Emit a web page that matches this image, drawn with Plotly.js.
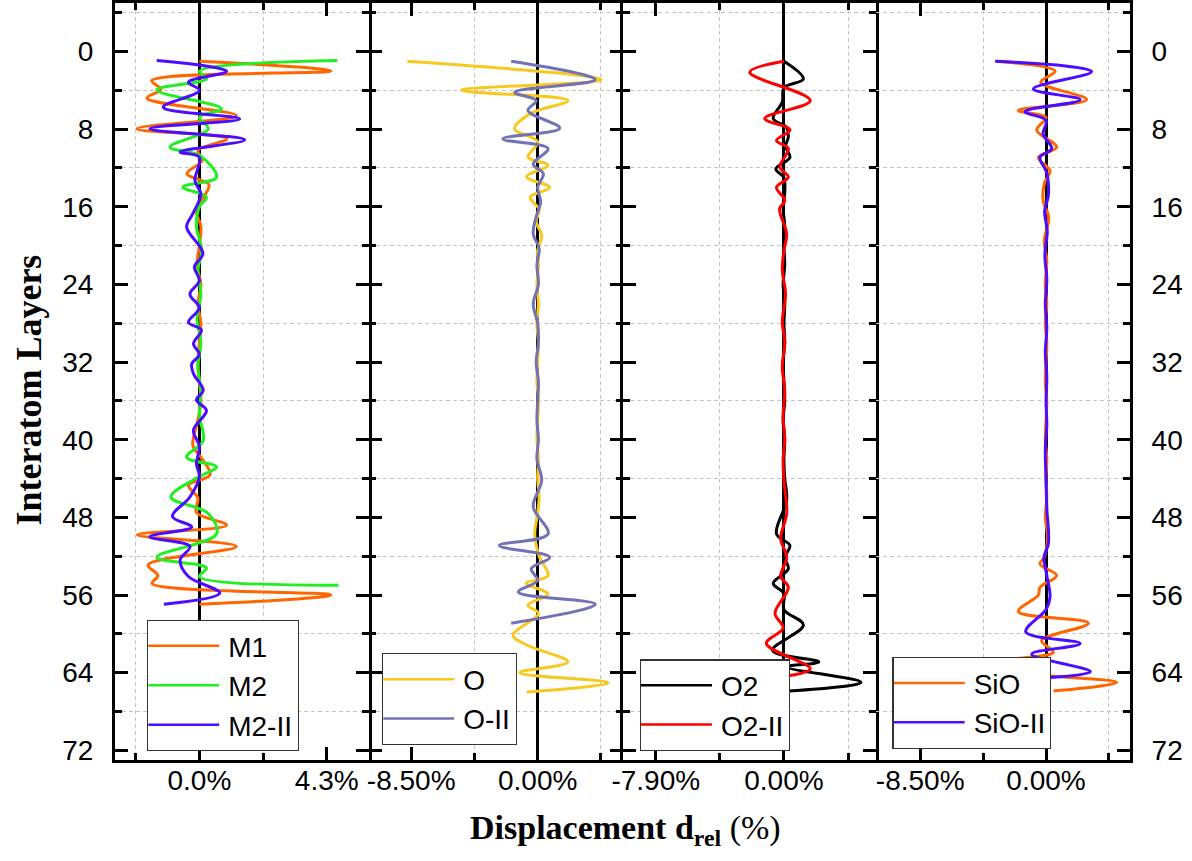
<!DOCTYPE html>
<html>
<head>
<meta charset="utf-8">
<script src="https://cdn.plot.ly/plotly-3.0.1.min.js"></script>
<style>html,body{margin:0;padding:0;background:#fff;}#chart{width:1192px;height:861px;}</style>
</head>
<body>
<div id="chart"></div>
<script>
// ---------- Panel 1: M1, M2, M2-II ----------
const m1Layer = [1, 2, 3, 3.9, 4.8, 6.6, 7.95, 9.0, 10.2, 11.2, 12.6, 13.7, 15, 16.5, 18, 20, 22, 24, 26, 28, 30, 32, 34, 36, 38, 40.6, 41.8, 43.6, 44.7, 46, 47.5, 48.8, 49.8, 51.0, 52.9, 54.0, 54.8, 56.0, 56.95];
const m1Disp  = [0, 4.44, -1.61, -1.3, -1.77, 1.25, -2.11, 0.92, -0.05, 0.1, -0.42, 0.32, 0.15, -0.1, 0.05, 0.0, -0.08, 0.05, -0.05, 0.05, 0.0, -0.05, 0.0, 0.05, -0.05, -0.22, 0.05, 0.36, -0.37, -0.05, -0.1, 0.92, -2.1, 1.25, -1.73, -1.4, -1.6, 4.44, 0.0];

const m2Layer = [0.93, 2.03, 2.8, 3.95, 5.9, 6.77, 7.96, 9.85, 10.7, 12.95, 13.97, 15.0, 16.0, 18, 20.5, 22.5, 25, 27.5, 30, 32.5, 35, 37.5, 40.1, 41.8, 42.8, 43.8, 45.9, 47.6, 49.7, 52.1, 53.2, 54.1, 55.0];
const m2Disp  = [4.66, 0.0, 0.24, -1.44, 0.75, 0.0, 0.3, -0.99, 0.0, 0.58, -0.55, 0.24, 0.0, -0.1, 0.08, -0.05, 0.05, -0.08, 0.05, -0.05, 0.05, 0.0, 0.13, -0.43, 0.58, 0.0, -0.96, 0.3, 0.58, -1.44, 0.24, 0.0, 4.7];

const m2iiLayer = [0.93, 2.03, 3.16, 4.0, 5.74, 6.94, 7.96, 9.1, 10.37, 10.9, 13.3, 14.7, 16.7, 18.1, 20.8, 22.2, 23.6, 25.0, 26.4, 27.9, 28.7, 30.1, 31.2, 32.2, 33.2, 34.9, 35.9, 37.0, 39.0, 40.7, 42.5, 43.8, 45.9, 47.9, 49.0, 50.0, 51.0, 52.4, 54.1, 55.8, 56.95];
const m2iiDisp  = [-1.44, 0.92, -0.37, 0.0, -1.22, 1.36, -1.67, 1.53, -0.65, 0.0, -0.15, 0.05, -0.22, -0.43, 0.12, -0.17, 0.0, -0.32, 0.0, -0.37, 0.07, -0.2, 0.0, -0.26, -0.2, 0.13, -0.1, 0.24, -0.2, 0.0, -0.1, 0.0, -0.32, -0.91, -0.26, -1.67, -0.32, -0.65, -0.37, 0.69, -1.2];

// ---------- Panel 2: O, O-II ----------
const oLayer = [1.0, 2.9, 4.0, 5.05, 6.4, 7.97, 9.3, 10.9, 11.7, 12.9, 14.0, 15.0, 16.3, 17.5, 19.0, 20.5, 22, 24, 26, 28, 30, 32, 34, 36, 38, 40, 42, 44, 46, 48, 49.7, 52, 54.0, 54.8, 55.9, 57.05, 57.9, 60.15, 61.2, 62.9, 64.0, 65.05, 66.0];
const oDisp  = [-8.76, 4.26, -5.13, 2.03, -0.5, -1.55, 0.0, -0.65, 0.7, -0.74, 0.81, -0.5, 0.1, -0.1, 0.27, 0.0, 0.05, -0.05, 0.05, -0.05, 0.05, 0.0, -0.05, 0.05, 0.0, -0.05, 0.05, 0.0, 0.1, -0.05, -0.2, 0.1, 0.69, -0.76, 0.69, -0.65, 0.05, -1.66, -0.65, 2.03, -1.2, 4.73, -0.74];

const oiiLayer = [1.0, 2.9, 4.2, 5.05, 6.08, 7.9, 9.0, 10.0, 11.6, 12.6, 14, 15.5, 17, 18.8, 20.3, 22, 24, 26, 28, 30, 32, 34, 36, 38, 40, 42, 44.2, 46.9, 49.7, 50.9, 52.1, 53.3, 54.5, 55.7, 56.95, 58.9];
const oiiDisp  = [-1.78, 3.87, -1.55, -0.1, -0.65, 1.48, -2.34, 0.7, -0.3, 0.38, 0.0, 0.2, -0.1, -0.3, 0.1, -0.05, 0.05, -0.3, 0.0, 0.05, -0.1, 0.05, 0.0, -0.05, 0.05, -0.05, 0.27, -0.3, 0.7, -2.57, 0.81, -0.43, 0.0, -1.3, 3.87, -1.78];

// ---------- Panel 3: O2, O2-II ----------
const o2Layer = [1.0, 2.82, 3.74, 5.2, 6.9, 7.8, 8.8, 9.8, 10.9, 12.1, 13.0, 14.5, 16, 18, 20, 22, 24, 26, 28, 30, 32, 34, 36, 38, 40, 42, 44, 46.2, 49.7, 50.9, 52.1, 53.3, 54.8, 55.85, 57.5, 59.1, 61.7, 62.9, 63.4, 65.0, 65.9];
const o2Disp  = [0.0, 1.2, 0.0, -0.1, -0.66, 0.15, 0.27, 0.1, 0.37, -0.5, 0.0, 0.05, -0.05, 0.05, 0.0, 0.05, -0.05, 0.05, 0.0, 0.05, -0.05, 0.0, 0.05, -0.05, 0.05, 0.0, 0.05, 0.17, -0.46, 0.37, 0.06, 0.27, -0.66, 0.0, 0.0, 1.2, -0.7, 2.15, 0.17, 4.75, 0.27];

const o2iiLayer = [1.0, 2.13, 5.05, 6.9, 8.07, 9.17, 10.0, 11.9, 12.95, 14.0, 15.35, 16.2, 18.8, 20.5, 22.5, 25, 27.8, 30, 32.5, 35, 37.5, 40, 42, 44.2, 47.6, 50.2, 52.1, 54.1, 55.2, 57.9, 59.4, 61.0, 63.6, 64.3];
const o2iiDisp  = [0.0, -2.11, 1.62, -1.18, 0.37, -0.46, 0.27, -0.25, 0.27, -0.46, 0.06, -0.27, 0.17, 0.0, -0.1, 0.1, -0.1, 0.05, -0.1, 0.05, -0.05, 0.05, -0.05, 0.0, 0.17, -0.2, 0.17, -0.2, 0.27, -0.55, -0.05, -1.08, 1.62, 0.37];

// ---------- Panel 4: SiO, SiO-II ----------
const sioLayer = [1.0, 2.03, 3.16, 4.95, 6.08, 6.8, 8.1, 9.86, 10.9, 12.3, 13.5, 15.35, 17.1, 19.5, 21.5, 24, 26, 28, 30, 32, 34, 36, 38, 40, 42, 44, 46, 48, 50, 52.1, 52.8, 54.0, 55.2, 56.0, 57.7, 58.9, 60.7, 61.9, 62.7, 63.6, 65.0, 65.9];
const sioDisp  = [-3.33, 0.61, -0.36, 2.74, -1.87, 0.0, -0.63, 0.72, -0.52, 0.27, -0.1, -0.2, 0.18, -0.12, 0.05, -0.05, 0.05, -0.05, 0.05, 0.0, -0.05, 0.05, 0.0, -0.05, 0.05, 0.0, 0.05, -0.05, 0.1, -0.12, -0.41, 0.72, -0.41, -0.52, -1.87, 2.86, -0.3, 0.5, -2.43, -3.5, 4.77, 0.5];

const siiiLayer = [1.0, 2.06, 3.85, 4.98, 6.2, 7.1, 8.5, 10.0, 10.9, 12.5, 14.8, 16.5, 18.5, 21, 23.5, 26, 28.5, 31, 33.5, 36, 38.5, 41, 44.2, 47, 50.7, 52.1, 54, 56.2, 57.5, 59.8, 61.0, 62.1, 63.9, 64.5];
const siiiDisp  = [-3.44, 3.08, -0.86, 2.3, -1.42, 0.0, -0.2, 0.38, -0.41, 0.05, 0.16, -0.1, 0.08, -0.08, 0.05, -0.05, 0.05, -0.05, 0.05, 0.0, 0.05, -0.05, 0.0, 0.05, 0.16, -0.14, 0.05, 0.27, 0.0, -1.37, 2.3, -0.97, 3.0, 0.3];

// ---------- tick labels ----------
const yTickVals = [0, 8, 16, 24, 32, 40, 48, 56, 64, 72];
const yTickText = ['0', '8', '16', '24', '32', '40', '48', '56', '64', '72'];
const yMinorVals = [-4, 4, 12, 20, 28, 36, 44, 52, 60, 68];
const x1TickVals = [0, 4.3];        const x1TickText = ['0.0%', '4.3%'];
const x2TickVals = [-8.5, 0];       const x2TickText = ['-8.50%', '0.00%'];
const x3TickVals = [-7.9, 0];       const x3TickText = ['-7.90%', '0.00%'];
const x4TickVals = [-8.5, 0];       const x4TickText = ['-8.50%', '0.00%'];

const TICKFONT = {family: 'Liberation Sans, Arial, sans-serif', size: 28, color: '#000'};
const SERIF = 'Liberation Serif, Times New Roman, serif';

function tr(x, y, name, color, xa, ya, lg) {
  return {type: 'scatter', mode: 'lines', x: x, y: y, name: name,
    xaxis: xa, yaxis: ya, legend: lg,
    line: {color: color, width: 3, shape: 'spline', smoothing: 1}};
}

const data = [
  tr(m1Disp, m1Layer, 'M1', '#ff6600', 'x', 'y', 'legend'),
  tr(m2Disp, m2Layer, 'M2', '#22ee22', 'x', 'y', 'legend'),
  tr(m2iiDisp, m2iiLayer, 'M2-II', '#4c0cff', 'x', 'y', 'legend'),
  tr(oDisp, oLayer, 'O', '#f7c81f', 'x2', 'y2', 'legend2'),
  tr(oiiDisp, oiiLayer, 'O-II', '#7272b4', 'x2', 'y2', 'legend2'),
  tr(o2Disp, o2Layer, 'O2', '#000000', 'x3', 'y3', 'legend3'),
  tr(o2iiDisp, o2iiLayer, 'O2-II', '#ff0000', 'x3', 'y3', 'legend3'),
  tr(sioDisp, sioLayer, 'SiO', '#ff6600', 'x4', 'y4', 'legend4'),
  tr(siiiDisp, siiiLayer, 'SiO-II', '#4c0cff', 'x4', 'y4', 'legend4')
];

const GRIDCOLOR = '#c4c4c4';
const GRIDDASH = '4px,3px';

function xax(dom, rng, tv, tt, minorVals) {
  return {domain: dom, range: rng, tickmode: 'array', tickvals: tv, ticktext: tt,
    ticks: 'inside', ticklen: 13, tickwidth: 3, tickcolor: '#000',
    showline: true, linewidth: 3, linecolor: '#000', mirror: 'ticks',
    showgrid: false, zeroline: true, zerolinecolor: '#000', zerolinewidth: 3,
    tickfont: TICKFONT,
    minor: {tickmode: 'array', tickvals: minorVals, ticks: 'inside', ticklen: 7, tickwidth: 3, tickcolor: '#000',
      showgrid: true, gridcolor: GRIDCOLOR, griddash: GRIDDASH, gridwidth: 1}};
}
function yax(anchor, opts) {
  return Object.assign({anchor: anchor, range: [73, -5], side: 'left', tickmode: 'array', tickvals: yTickVals, ticktext: yTickText,
    showticklabels: false, ticks: 'inside', ticklen: 13, tickwidth: 3, tickcolor: '#000',
    showline: true, linewidth: 3, linecolor: '#000', mirror: 'ticks',
    showgrid: false, zeroline: false, tickfont: TICKFONT, ticklabelstandoff: 13,
    minor: {tickmode: 'array', tickvals: yMinorVals, ticks: 'inside', ticklen: 7, tickwidth: 3, tickcolor: '#000',
      showgrid: true, gridcolor: GRIDCOLOR, griddash: GRIDDASH, gridwidth: 1}}, opts);
}

const LEG = {xanchor: 'left', yanchor: 'top', bgcolor: '#fff', bordercolor: '#333', borderwidth: 1.2,
  font: {family: 'Liberation Sans, Arial, sans-serif', size: 28, color: '#000'}, itemwidth: 70, tracegroupgap: 0};

const layout = {
  width: 1192, height: 861,
  margin: {l: 115, r: 62, t: 3, b: 101},
  paper_bgcolor: '#fff', plot_bgcolor: '#fff',
  showlegend: true,
  xaxis: xax([0, 0.25], [-2.85, 5.72], x1TickVals, x1TickText, [-2.15, 2.15]),
  xaxis2: xax([0.25, 0.5], [-11.35, 5.7], x2TickVals, x2TickText, [-4.25, 4.25]),
  xaxis3: xax([0.5, 0.75], [-9.95, 5.69], x3TickVals, x3TickText, [-3.95, 3.95]),
  xaxis4: xax([0.75, 1], [-11.47, 5.67], x4TickVals, x4TickText, [-4.25, 4.25]),
  yaxis: yax('x', {showticklabels: true}),
  yaxis2: yax('x2', {showline: false}),
  yaxis3: yax('x3', {}),
  yaxis4: yax('x4', {side: 'right', showticklabels: true, mirror: false}),
  yaxis5: yax('x4', {overlaying: 'y4', side: 'left', showline: false, mirror: false,
    minor: {tickmode: 'array', tickvals: yMinorVals, ticks: 'inside', ticklen: 7, tickwidth: 3, tickcolor: '#000', showgrid: false}}),
  legend: Object.assign({}, LEG, {x: 0.0315, y: 0.185}),
  legend2: Object.assign({}, LEG, {x: 0.263, y: 0.141}),
  legend3: Object.assign({}, LEG, {x: 0.517, y: 0.133}),
  legend4: Object.assign({}, LEG, {x: 0.766, y: 0.136}),
  annotations: [
    {xref: 'paper', yref: 'paper', x: 0.503, y: -0.0925, xanchor: 'center', yanchor: 'middle', showarrow: false,
      text: '<b>Displacement d<sub>rel</sub></b> (%)', font: {family: SERIF, size: 34, color: '#000'}},
    {xref: 'paper', yref: 'paper', x: -0.085, y: 0.489, xanchor: 'center', yanchor: 'middle', showarrow: false,
      textangle: -90, text: '<b>Interatom Layers</b>', font: {family: SERIF, size: 36, color: '#000'}}
  ]
};

Plotly.newPlot('chart', data, layout, {displayModeBar: false, staticPlot: true}).then(function (gd) {
  // longer, thinner legend line samples as in the reference
  gd.querySelectorAll('.legendlines path.js-line').forEach(function (p) {
    p.setAttribute('d', 'M0,0h71');
    p.style.strokeWidth = '2.5px';
  });
  // x tick labels sit a little closer to the axis in the reference
  gd.querySelectorAll('g.xtick text, g.x2tick text, g.x3tick text, g.x4tick text').forEach(function (t) {
    const y = parseFloat(t.getAttribute('y'));
    if (!isNaN(y)) t.setAttribute('y', String(y - 7));
  });
});
</script>
</body>
</html>
